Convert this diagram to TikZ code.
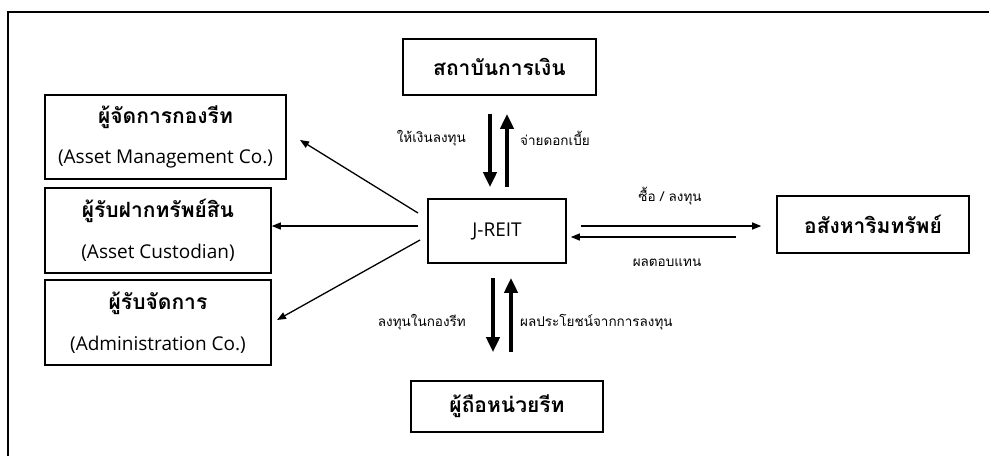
\documentclass[tikz,border=0pt]{standalone}
\usepackage{fontspec}
\setmainfont{Loma}[Script=Thai]
\newfontfamily\latinf{Open Sans}
\usetikzlibrary{arrows.meta}
\tikzset{
  box/.style={draw, line width=1.6pt, inner sep=0pt, align=center, minimum width=#1},
  box/.default=100pt,
  thin/.style={line width=1.3pt, -{Triangle[length=9pt,width=7pt]}},
  thick/.style={line width=4pt, -{Triangle[length=15pt,width=13pt]}},
  lbl/.style={font=\fontsize{13.5}{15}\selectfont, inner sep=0pt},
  ttl/.style={font=\fontsize{21}{24}\selectfont\bfseries},
}
\newcommand{\eng}[1]{{\fontsize{19}{22}\selectfont\latinf #1}}
\newcommand{\ttlt}[1]{{\bfseries\fontsize{21}{24}\selectfont #1}}
\begin{document}
\begin{tikzpicture}[x=1pt,y=-1pt]
\useasboundingbox (0,0) rectangle (989,456);
\draw[line width=1.3pt] (8,456) -- (8,12) -- (989,12);

\node[box=193pt, minimum height=56pt, ttl] (fin) at (499.5,67) {สถาบันการเงิน};
\node[box=241pt, minimum height=84pt] (amc) at (165.5,137) {\ttlt{ผู้จัดการกองรีท}\\[20pt]\eng{(Asset Management Co.)}};
\node[box=226pt, minimum height=85pt] (cus) at (158,230.5) {\ttlt{ผู้รับฝากทรัพย์สิน}\\[20pt]\eng{(Asset Custodian)}};
\node[box=226pt, minimum height=85pt] (adm) at (158,322.5) {\ttlt{ผู้รับจัดการ}\\[20pt]\eng{(Administration Co.)}};
\node[box=138pt, minimum height=64pt, font=\fontsize{19}{22}\selectfont\latinf] (jr) at (497,231) {J-REIT};
\node[box=192pt, minimum height=57pt, ttl] (est) at (873,224.5) {อสังหาริมทรัพย์};
\node[box=192pt, minimum height=51pt, ttl] (hold) at (507,406.5) {ผู้ถือหน่วยรีท};

% finance <-> J-REIT
\draw[thick] ([xshift=-9.5pt,yshift=-18pt]fin.south) -- ([xshift=-7pt,yshift=11pt]jr.north);
\draw[thick] ([xshift=10pt,yshift=11pt]jr.north) -- ([xshift=7.5pt,yshift=-18pt]fin.south);
\node[lbl, anchor=east] (l1) at (466,138) {ให้เงินลงทุน};
\node[lbl, anchor=west] (l2) at (520,138) {จ่ายดอกเบี้ย};

% J-REIT <-> holders
\draw[thick] ([xshift=-4pt,yshift=-14pt]jr.south) -- ([xshift=-14pt,yshift=28pt]hold.north);
\draw[thick] ([xshift=4pt,yshift=28pt]hold.north) -- ([xshift=14pt,yshift=-14pt]jr.south);
\node[lbl, anchor=east] (l3) at (466,322) {ลงทุนในกองรีท};
\node[lbl, anchor=west] (l4) at (520,322) {ผลประโยชน์จากการลงทุน};

% J-REIT <-> estate
\draw[thin] ([xshift=14pt,yshift=5pt]jr.east) -- ([xshift=-15pt,yshift=-1.5pt]est.west);
\draw[thin] ([xshift=-40pt,yshift=-12.5pt]est.west) -- ([xshift=4pt,yshift=-6pt]jr.east);
\node[lbl] (l5) at (670,196) {ซื้อ / ลงทุน};
\node[lbl] (l6) at (667,263) {ผลตอบแทน};

% J-REIT -> left boxes
\coordinate (s1) at (418,213);
\coordinate (s2) at (418,226);
\coordinate (s3) at (420,240);
\draw[thin] (s1) -- (300,140);
\draw[thin] (s2) -- (cus.east |- s2);
\draw[thin] (s3) -- (277,320);
\end{tikzpicture}
\end{document}
